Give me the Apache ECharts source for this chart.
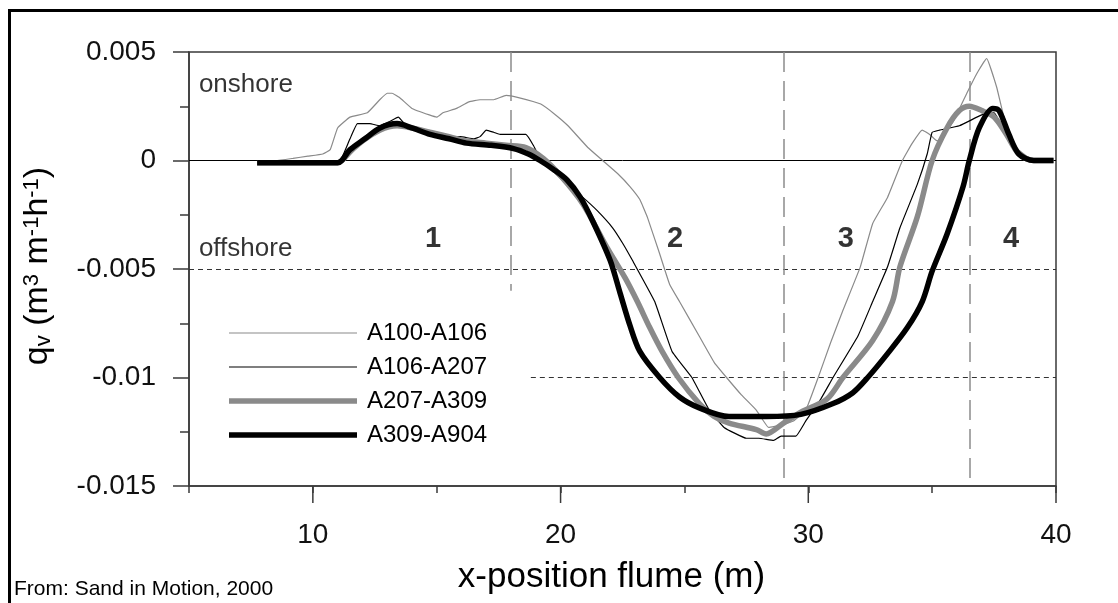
<!DOCTYPE html>
<html>
<head>
<meta charset="utf-8">
<title>Cross-shore sediment transport</title>
<script src="https://cdn.jsdelivr.net/npm/echarts@6/dist/echarts.min.js"></script>
<style>
  html, body { margin: 0; padding: 0; background: #fff; }
  #chart { width: 1118px; height: 603px; }
</style>
</head>
<body>
<div id="chart"></div>
<script>
// Transport rate q_v (m3/m/h) along the flume, x-position in metres.
const seriesNames = ['A100-A106', 'A106-A207', 'A207-A309', 'A309-A904'];

const a100a106 = [
  [7.75, 0], [8.5, 0], [9.2, 0.0001], [9.8, 0.0002], [10.4, 0.0003], [10.7, 0.0005],
  [11.0, 0.0015], [11.5, 0.002], [12.2, 0.0022], [12.7, 0.0028], [13.0, 0.0031], [13.2, 0.0031],
  [13.5, 0.0029], [14.0, 0.0024], [14.7, 0.0021], [15.0, 0.002], [15.25, 0.0022], [15.8, 0.0024],
  [16.3, 0.0027], [16.75, 0.0028], [17.3, 0.0028], [17.8, 0.003], [18.3, 0.0029], [19.2, 0.0026],
  [19.8, 0.0021], [20.3, 0.0016], [21.1, 0.0006], [21.7, 0.0], [22.3, -0.0006], [22.8, -0.0012],
  [23.2, -0.0018], [23.5, -0.0026], [24.0, -0.0043], [24.4, -0.0057], [24.8, -0.0065],
  [25.6, -0.0081], [26.2, -0.0093], [26.7, -0.01], [27.3, -0.0108], [27.9, -0.0115],
  [28.4, -0.0123], [28.9, -0.0122], [29.4, -0.012], [29.9, -0.0115], [30.4, -0.01],
  [30.9, -0.0084], [31.4, -0.0069], [32.1, -0.0049], [32.6, -0.0029], [33.2, -0.0017],
  [33.8, 0], [34.2, 0.0008], [34.6, 0.0014], [34.9, 0.0012], [35.2, 0.0009], [35.85, 0.0018],
  [36.4, 0.0031], [36.8, 0.004], [37.2, 0.0047], [37.6, 0.0034], [37.9, 0.002], [38.4, 0.0006],
  [39.1, 0], [39.9, 0]
];

const a106a207 = [
  [7.75, 0], [9.0, 0], [10.0, -0.0001], [11.0, -0.0001], [11.2, 0.0002], [11.5, 0.001],
  [11.8, 0.0017], [12.3, 0.0017], [12.7, 0.0016], [13.1, 0.0018], [13.45, 0.002], [13.7, 0.0017],
  [14.05, 0.0015], [14.8, 0.0013], [15.5, 0.0011], [15.95, 0.0011], [16.5, 0.001], [16.75, 0.0011],
  [17.0, 0.0014], [17.3, 0.0013], [17.56, 0.0012], [18.0, 0.0012], [18.6, 0.0012], [18.9, 0.0007],
  [19.17, 0.0001], [19.7, -0.0005], [20.26, -0.0011], [20.9, -0.0017], [21.47, -0.0023],
  [22.1, -0.0031], [22.5, -0.0038], [22.9, -0.0046], [23.8, -0.0065], [24.5, -0.0088],
  [25.3, -0.01], [26.0, -0.0115], [26.6, -0.0123], [27.5, -0.0128], [28.0, -0.0128],
  [28.6, -0.0129], [28.9, -0.0127], [29.5, -0.0127], [29.9, -0.012], [30.5, -0.011],
  [31.0, -0.01], [32.0, -0.0081], [32.6, -0.0065], [33.2, -0.0049], [33.7, -0.0031],
  [34.4, -0.0011], [34.8, 0.0003], [35.0, 0.0013], [35.3, 0.0014], [36.1, 0.0016],
  [37.0, 0.0021], [37.5, 0.0022], [38.0, 0.0012], [38.5, 0.0003], [39.1, 0], [39.9, 0]
];

const a207a309 = [
  [7.75, -0.0001], [9.0, -0.0001], [11.0, -0.0001], [11.5, 0.0004], [12.0, 0.0009],
  [12.7, 0.0014], [13.4, 0.0016], [14.0, 0.0015], [14.73, 0.0013], [15.5, 0.0011],
  [16.2, 0.0009], [17.0, 0.0008], [17.8, 0.0007], [18.6, 0.0006], [19.3, 0.0001],
  [20.0, -0.0007], [20.9, -0.002], [21.87, -0.004], [22.6, -0.0054], [23.1, -0.0065],
  [23.6, -0.0077], [24.1, -0.0088], [24.75, -0.01], [25.6, -0.0112], [26.2, -0.0118],
  [26.8, -0.0121], [27.9, -0.0124], [28.3, -0.0126], [29.0, -0.0121], [29.7, -0.0116],
  [30.75, -0.011], [31.4, -0.01], [32.6, -0.0083], [33.4, -0.0065], [33.7, -0.0049],
  [34.4, -0.0026], [35.0, 0], [35.6, 0.0015], [36.1, 0.0023], [36.5, 0.0025], [37.0, 0.0023],
  [37.5, 0.002], [38.0, 0.0012], [38.5, 0.0003], [39.1, 0], [39.9, 0]
];

const a309a904 = [
  [7.75, -0.0001], [9.0, -0.0001], [11.0, -0.0001], [11.5, 0.0005], [12.1, 0.001],
  [12.71, 0.0015], [13.4, 0.0017], [14.0, 0.0015], [14.73, 0.0012], [15.5, 0.001],
  [16.2, 0.0008], [17.2, 0.0007], [18.1, 0.00055], [18.7, 0.0003], [19.17, 0],
  [19.7, -0.0004], [20.26, -0.0009], [20.8, -0.0017], [21.3, -0.0028], [22.0, -0.0046],
  [22.4, -0.0061], [22.8, -0.0076], [23.2, -0.0088], [24.0, -0.01], [24.8, -0.0109],
  [25.6, -0.0114], [26.8, -0.0118], [28.3, -0.0118], [29.7, -0.0117], [31.0, -0.0112],
  [31.8, -0.0107], [32.4, -0.01], [33.2, -0.0089], [34.0, -0.0077], [34.6, -0.0065],
  [35.0, -0.0051], [35.6, -0.0034], [36.25, -0.0012], [36.5, 0], [36.9, 0.0015],
  [37.45, 0.0024], [37.7, 0.0023], [38.1, 0.0012], [38.5, 0.0003], [39.1, 0], [39.9, 0]
];

// Axis ranges and ticks
const xRange = [5, 40];
const xStep = 5;
const xLabelTicks = [10, 20, 30, 40];
const yRange = [-0.015, 0.005];
const yStep = 0.005;

// Zone boundaries (x) and how far down each dashed divider reaches
const zoneBounds = [18, 29, 36.5];
const zoneBottoms = [-0.006, -0.015, -0.015];
const offshoreLevel = -0.005;
const deepLevel = -0.01;
const deepLevelStart = 18.8;

// Text annotations inside the plot
const zoneLabels = [
  { name: '1', value: [14.85, -0.0036] },
  { name: '2', value: [24.62, -0.0036] },
  { name: '3', value: [31.52, -0.0036] },
  { name: '4', value: [38.19, -0.0036] }
];
const sideLabels = [
  { name: 'onshore', value: [5.4, 0.0035] },
  { name: 'offshore', value: [5.4, -0.00405] }
];

const chart = echarts.init(document.getElementById('chart'), null, { renderer: 'canvas' });

const FONT = 'Liberation Sans, Arial, Helvetica, sans-serif';
const AXIS_COLOR = '#3a3a3a';
const THIN = 1.2;
const THICK = 5.5;

const styles = [
  { color: '#8a8a8a', width: THIN },
  { color: '#000000', width: THIN },
  { color: '#8a8a8a', width: THICK },
  { color: '#000000', width: THICK }
];
const seriesData = [a100a106, a106a207, a207a309, a309a904];

const lineSeries = seriesNames.map((name, i) => ({
  name: name,
  type: 'line',
  data: seriesData[i],
  symbol: 'none',
  smooth: styles[i].width === THICK ? 0.3 : 0.1,
  lineStyle: { color: styles[i].color, width: styles[i].width },
  itemStyle: { color: styles[i].color },
  emphasis: { disabled: true },
  z: 5
}));

// Legend keys: a bar as tall as each line is thick
const legendData = seriesNames.map((name, i) => ({
  name: name,
  icon: 'path://M0,0L128,0L128,' + styles[i].width + 'L0,' + styles[i].width + 'Z'
}));

const dashThin = { color: '#333', width: 1, type: [5, 4] };
const dashZone = { color: '#8c8c8c', width: 1.5, type: [20, 9] };

const guideSeries = {
  name: 'guides',
  type: 'line',
  data: [],
  silent: true,
  z: 3,
  markLine: {
    silent: true,
    symbol: ['none', 'none'],
    label: { show: false },
    animation: false,
    data: [
      [{ coord: [xRange[0], 0], lineStyle: { color: '#000', width: 1, type: 'solid' } }, { coord: [xRange[1], 0] }],
      [{ coord: [xRange[0], offshoreLevel], lineStyle: dashThin }, { coord: [xRange[1], offshoreLevel] }],
      [{ coord: [deepLevelStart, deepLevel], lineStyle: dashThin }, { coord: [xRange[1], deepLevel] }]
    ].concat(zoneBounds.map((x, i) => [
      { coord: [x, yRange[1]], lineStyle: dashZone },
      { coord: [x, zoneBottoms[i]] }
    ]))
  }
};

// Long ticks under the labelled x positions
const majorTickSeries = {
  name: 'majorTicks',
  type: 'custom',
  silent: true,
  clip: false,
  data: xLabelTicks.map(v => [v, yRange[0]]),
  renderItem: function (params, api) {
    const p = api.coord([api.value(0), api.value(1)]);
    return {
      type: 'line',
      shape: { x1: p[0], y1: p[1], x2: p[0], y2: p[1] + 17 },
      style: { stroke: AXIS_COLOR, lineWidth: 1.5 }
    };
  },
  z: 4
};

const zoneLabelSeries = {
  name: 'zones',
  type: 'scatter',
  silent: true,
  symbolSize: 0,
  data: zoneLabels,
  label: {
    show: true,
    position: 'inside',
    formatter: '{b}',
    color: '#000',
    fontFamily: FONT,
    fontWeight: 'bold',
    fontSize: 29
  },
  z: 6
};

const sideLabelSeries = {
  name: 'sides',
  type: 'scatter',
  silent: true,
  symbolSize: 0,
  data: sideLabels,
  label: {
    show: true,
    position: 'right',
    distance: 0,
    formatter: '{b}',
    color: '#000',
    fontFamily: FONT,
    fontSize: 26
  },
  z: 6
};

const option = {
  animation: false,
  backgroundColor: '#ffffff',
  textStyle: { fontFamily: FONT },
  grid: {
    left: 189, right: 62, top: 52, bottom: 117,
    show: true, borderColor: AXIS_COLOR, borderWidth: 1.5, backgroundColor: 'transparent'
  },
  legend: {
    orient: 'vertical',
    left: 229,
    top: 321,
    itemWidth: 128,
    itemHeight: 14,
    itemGap: 10,
    padding: 0,
    selectedMode: false,
    data: legendData,
    textStyle: { fontFamily: FONT, fontSize: 24, color: '#000', padding: [0, 0, 0, 5] }
  },
  xAxis: {
    type: 'value',
    min: xRange[0],
    max: xRange[1],
    interval: xStep,
    splitLine: { show: false },
    axisLine: { show: true, onZero: false, lineStyle: { color: AXIS_COLOR, width: 1.5 } },
    axisTick: { show: true, length: 7, lineStyle: { color: AXIS_COLOR, width: 1.5 } },
    axisLabel: {
      margin: 35,
      color: '#111',
      fontFamily: FONT,
      fontSize: 28,
      formatter: v => (xLabelTicks.indexOf(v) >= 0 ? String(v) : '')
    },
    name: 'x-position flume (m)',
    nameLocation: 'middle',
    nameGap: 74,
    nameTextStyle: { fontFamily: FONT, fontSize: 35, color: '#000', padding: [0, 22, 0, 0] }
  },
  yAxis: {
    type: 'value',
    min: yRange[0],
    max: yRange[1],
    interval: yStep,
    splitLine: { show: false },
    axisLine: { show: true, lineStyle: { color: AXIS_COLOR, width: 1.5 } },
    axisTick: { show: true, length: 16, lineStyle: { color: AXIS_COLOR, width: 1.5 } },
    minorTick: { show: true, splitNumber: 2, length: 9, lineStyle: { color: AXIS_COLOR, width: 1.5 } },
    axisLabel: {
      margin: 33,
      color: '#111',
      fontFamily: FONT,
      fontSize: 28
    }
  },
  graphic: [
    {
      type: 'rect',
      left: 7, top: 8,
      shape: { width: 1200, height: 700 },
      style: { fill: 'none', stroke: '#000', lineWidth: 3 },
      silent: true
    },
    {
      type: 'text',
      x: 38, y: 266,
      rotation: Math.PI / 2,
      silent: true,
      style: {
        text: '{n|q}{sub|v}{n| (m}{sup|3}{n| m}{sup|-1}{n|h}{sup|-1}{n|)}',
        align: 'center',
        verticalAlign: 'middle',
        fill: '#000',
        rich: {
          n: { fontFamily: FONT, fontSize: 34, fill: '#000' },
          sup: { fontFamily: FONT, fontSize: 22, verticalAlign: 'top', fill: '#000' },
          sub: { fontFamily: FONT, fontSize: 22, verticalAlign: 'bottom', fill: '#000' }
        }
      }
    },
    {
      type: 'text',
      left: 14, top: 579,
      silent: true,
      style: { text: 'From: Sand in Motion, 2000', font: '21px ' + FONT, fill: '#000' }
    }
  ],
  series: [guideSeries, majorTickSeries].concat(lineSeries, [zoneLabelSeries, sideLabelSeries])
};

chart.setOption(option);
</script>
</body>
</html>
